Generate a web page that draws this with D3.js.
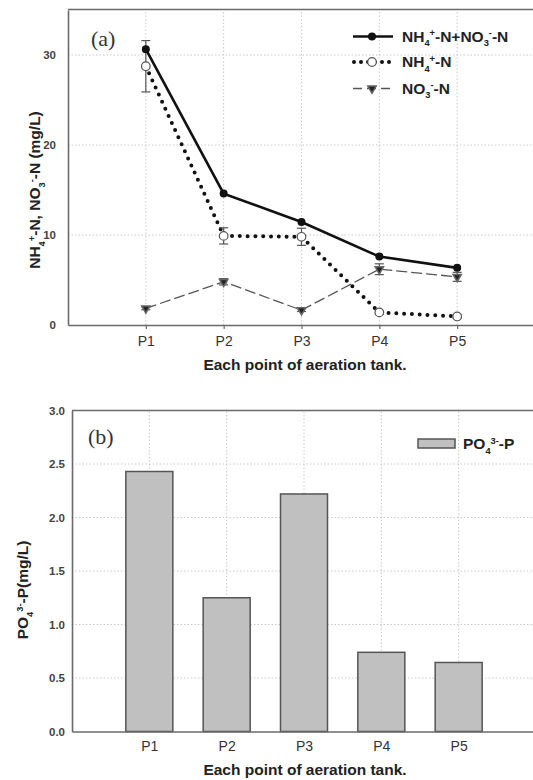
<!DOCTYPE html>
<html><head><meta charset="utf-8">
<script src="https://cdn.jsdelivr.net/npm/d3@7"></script>
<style>
body{margin:0;background:#fff;}
text{font-family:"Liberation Sans",Arial,sans-serif;}
</style></head>
<body><svg id="c" width="533" height="780"></svg>
<script>
// ---- data ----
const points = ["P1","P2","P3","P4","P5"];
const totalN = [30.65, 14.6, 11.45, 7.6, 6.35];
const nh4N = [28.75, 9.9, 9.8, 1.4, 0.95];
const nh4Err = [2.85, 0.9, 0.95, 0.2, 0.15];
const no3N = [1.85, 4.8, 1.65, 6.2, 5.35];
const no3Err = [0.15, 0.35, 0.15, 0.6, 0.5];
const po4P = [2.43, 1.25, 2.22, 0.74, 0.645];
const yTicksA = [0, 10, 20, 30];
const yTicksB = [0, 0.5, 1.0, 1.5, 2.0, 2.5, 3.0];

const svg = d3.select("#c");
const idx = points.map((p,i)=>i+1);
const gridCol = "#c8c8c8", axisCol = "#6a6a6a", txtCol = "#333";
const FS = 15.5;

function richText(sel, parts, size){
  parts.forEach(p=>{
    const t = sel.append("tspan").text(p.t);
    if(p.sub){ t.attr("font-size",size*0.6).attr("dy",size*0.3); }
    else if(p.sup){ t.attr("font-size",size*0.6).attr("dy",-size*0.65); }
    else if(p.back){ t.attr("dy",size*0.35); }
  });
}
const NH4 = [{t:"NH"},{t:"4",sub:true},{t:"+",sup:true},{t:"-N",back:true}];
const NO3 = [{t:"NO"},{t:"3",sub:true},{t:"-",sup:true},{t:"-N",back:true}];
const PO4 = [{t:"PO"},{t:"4",sub:true},{t:"3-",sup:true},{t:"-P",back:true}];

// ================= (a) =================
const xA = d3.scaleLinear().domain([0,6]).range([68,535]);
const yA = d3.scaleLinear().domain([0,35]).range([325,10]);
const gA = svg.append("g");

gA.selectAll(".hg").data(yTicksA.filter(d=>d>0)).enter().append("line")
  .attr("x1",xA(0)).attr("x2",xA(6)).attr("y1",d=>yA(d)).attr("y2",d=>yA(d))
  .attr("stroke",gridCol).attr("stroke-width",1).attr("stroke-dasharray","1.5,2");
gA.selectAll(".vg").data(idx).enter().append("line")
  .attr("x1",d=>xA(d)).attr("x2",d=>xA(d)).attr("y1",yA(0)).attr("y2",yA(35))
  .attr("stroke",gridCol).attr("stroke-width",1).attr("stroke-dasharray","1.5,2");

const axA = gA.append("g").attr("transform",`translate(0,${yA(0)})`)
  .call(d3.axisBottom(xA).tickValues(idx).tickFormat(d=>points[d-1]).tickSize(4).tickSizeOuter(0).tickPadding(7));
const ayA = gA.append("g").attr("transform",`translate(${xA(0)},0)`)
  .call(d3.axisLeft(yA).tickValues(yTicksA).tickSize(0).tickSizeOuter(0).tickPadding(12));
[axA, ayA].forEach(a=>{
  a.select(".domain").attr("stroke",axisCol).attr("stroke-width",1.6);
  a.selectAll(".tick line").attr("stroke",axisCol).attr("stroke-width",1.2);
});
axA.selectAll("text").attr("font-size",14).attr("fill",txtCol);
ayA.selectAll("text").attr("font-size",11.5).attr("font-weight","bold").attr("fill","#444");
gA.append("line").attr("x1",xA(0)).attr("x2",533).attr("y1",yA(35)-0.5).attr("y2",yA(35)-0.5)
  .attr("stroke",axisCol).attr("stroke-width",1.6);

const lineA = (arr)=>d3.line().x((d,i)=>xA(i+1)).y(d=>yA(d))(arr);
gA.append("path").attr("d",lineA(no3N)).attr("fill","none").attr("stroke","#555")
  .attr("stroke-width",1.3).attr("stroke-dasharray","11,4");
gA.append("path").attr("d",lineA(nh4N)).attr("fill","none").attr("stroke","#111")
  .attr("stroke-width",4).attr("stroke-linecap","round").attr("stroke-dasharray","0,7.8");
gA.append("path").attr("d",lineA(totalN)).attr("fill","none").attr("stroke","#111")
  .attr("stroke-width",2.6);

function errBars(vals, errs){
  const g = gA.append("g").attr("stroke","#555").attr("stroke-width",1.2);
  vals.forEach((v,i)=>{
    const x = xA(i+1), y1 = yA(v+errs[i]), y2 = yA(v-errs[i]);
    g.append("line").attr("x1",x).attr("x2",x).attr("y1",y1).attr("y2",y2);
    g.append("line").attr("x1",x-4.5).attr("x2",x+4.5).attr("y1",y1).attr("y2",y1);
    g.append("line").attr("x1",x-4.5).attr("x2",x+4.5).attr("y1",y2).attr("y2",y2);
  });
}
errBars(nh4N, nh4Err);
errBars(no3N, no3Err);

const tri = d3.symbol().type(d3.symbolTriangle).size(30);
gA.selectAll(".m3").data(no3N).enter().append("path")
  .attr("d",tri).attr("transform",(d,i)=>`translate(${xA(i+1)},${yA(d)}) rotate(180)`)
  .attr("fill","#222").attr("stroke","#666").attr("stroke-width",1.5);
gA.selectAll(".m2").data(nh4N).enter().append("circle")
  .attr("cx",(d,i)=>xA(i+1)).attr("cy",d=>yA(d)).attr("r",4.3)
  .attr("fill","#fff").attr("stroke","#555").attr("stroke-width",1.2);
gA.selectAll(".m1").data(totalN).enter().append("circle")
  .attr("cx",(d,i)=>xA(i+1)).attr("cy",d=>yA(d)).attr("r",4)
  .attr("fill","#111");

gA.append("text").attr("x",91).attr("y",46).text("(a)")
  .style("font-family","'Liberation Serif','DejaVu Serif',serif")
  .attr("font-size",22).attr("fill","#333");

// legend
const legA = gA.append("g");
const legRows = [36.5, 62, 88.5];
legA.append("line").attr("x1",353).attr("x2",393).attr("y1",legRows[0]).attr("y2",legRows[0])
  .attr("stroke","#111").attr("stroke-width",2.6);
legA.append("circle").attr("cx",372).attr("cy",legRows[0]).attr("r",4).attr("fill","#111");
legA.append("line").attr("x1",354).attr("x2",392).attr("y1",legRows[1]).attr("y2",legRows[1])
  .attr("stroke","#111").attr("stroke-width",4).attr("stroke-linecap","round").attr("stroke-dasharray","0,7");
legA.append("circle").attr("cx",372).attr("cy",legRows[1]).attr("r",4.3).attr("fill","#fff").attr("stroke","#555").attr("stroke-width",1.2);
legA.append("line").attr("x1",353).attr("x2",393).attr("y1",legRows[2]).attr("y2",legRows[2])
  .attr("stroke","#555").attr("stroke-width",1.3).attr("stroke-dasharray","9,5");
legA.append("path").attr("d",tri).attr("transform",`translate(372,${legRows[2]}) rotate(180)`)
  .attr("fill","#222").attr("stroke","#666").attr("stroke-width",1.5);
const legTexts = [[...NH4, {t:"+"}, ...NO3], NH4, NO3];
legTexts.forEach((parts,k)=>{
  const t = legA.append("text").attr("x",402).attr("y",legRows[k]+5)
    .attr("font-size",FS).attr("font-weight","bold").attr("fill","#222");
  richText(t, parts, FS);
});

gA.append("text").attr("x",305).attr("y",370).attr("text-anchor","middle")
  .attr("font-size",FS).attr("font-weight","bold").attr("fill","#222").text("Each point of aeration tank.");
const ytA = gA.append("text").attr("transform","translate(40,190) rotate(-90)").attr("text-anchor","middle")
  .attr("font-size",FS).attr("font-weight","bold").attr("fill","#222");
richText(ytA, [...NH4, {t:", "}, ...NO3, {t:" (mg/L)"}], FS);

// ================= (b) =================
const xB = d3.scaleLinear().domain([0,6]).range([72,536]);
const yB = d3.scaleLinear().domain([0,3]).range([731.5,410.5]);
const gB = svg.append("g");

gB.selectAll(".hg").data(yTicksB.filter(d=>d>0 && d<3)).enter().append("line")
  .attr("x1",xB(0)).attr("x2",xB(6)).attr("y1",d=>yB(d)).attr("y2",d=>yB(d))
  .attr("stroke",gridCol).attr("stroke-width",1).attr("stroke-dasharray","1.5,2");
gB.selectAll(".vg").data(idx).enter().append("line")
  .attr("x1",d=>xB(d)).attr("x2",d=>xB(d)).attr("y1",yB(0)).attr("y2",yB(3))
  .attr("stroke",gridCol).attr("stroke-width",1).attr("stroke-dasharray","1.5,2");

const bw = 47;
gB.selectAll(".bar").data(po4P).enter().append("rect")
  .attr("x",(d,i)=>xB(i+1)-bw/2).attr("width",bw)
  .attr("y",d=>yB(d)).attr("height",d=>yB(0)-yB(d))
  .attr("fill","#c0c0c0").attr("stroke","#555").attr("stroke-width",1.5);

const axB = gB.append("g").attr("transform",`translate(0,${yB(0)})`)
  .call(d3.axisBottom(xB).tickValues(idx).tickFormat(d=>points[d-1]).tickSize(0).tickSizeOuter(0).tickPadding(10));
const ayB = gB.append("g").attr("transform",`translate(${xB(0)},0)`)
  .call(d3.axisLeft(yB).tickValues(yTicksB).tickFormat(d3.format(".1f")).tickSize(0).tickSizeOuter(0).tickPadding(7));
[axB, ayB].forEach(a=>{
  a.select(".domain").attr("stroke",axisCol).attr("stroke-width",1.6);
});
axB.selectAll("text").attr("font-size",14).attr("fill",txtCol);
ayB.selectAll("text").attr("font-size",11.5).attr("font-weight","bold").attr("fill","#444");
gB.append("line").attr("x1",xB(0)).attr("x2",533).attr("y1",yB(3)).attr("y2",yB(3))
  .attr("stroke",axisCol).attr("stroke-width",1.6);

gB.append("text").attr("x",88).attr("y",444).text("(b)")
  .style("font-family","'Liberation Serif','DejaVu Serif',serif").attr("font-size",22).attr("fill","#333");

gB.append("rect").attr("x",418).attr("y",439).attr("width",37).attr("height",9)
  .attr("fill","#c0c0c0").attr("stroke","#555").attr("stroke-width",1.5);
const lb = gB.append("text").attr("x",463).attr("y",449).attr("font-size",FS).attr("font-weight","bold").attr("fill","#222");
richText(lb, PO4, FS);

gB.append("text").attr("x",305).attr("y",775).attr("text-anchor","middle")
  .attr("font-size",FS).attr("font-weight","bold").attr("fill","#222").text("Each point of aeration tank.");
const ytB = gB.append("text").attr("transform","translate(28,590) rotate(-90)").attr("text-anchor","middle")
  .attr("font-size",FS).attr("font-weight","bold").attr("fill","#222");
richText(ytB, [...PO4, {t:"(mg/L)"}], FS);
</script></body></html>
